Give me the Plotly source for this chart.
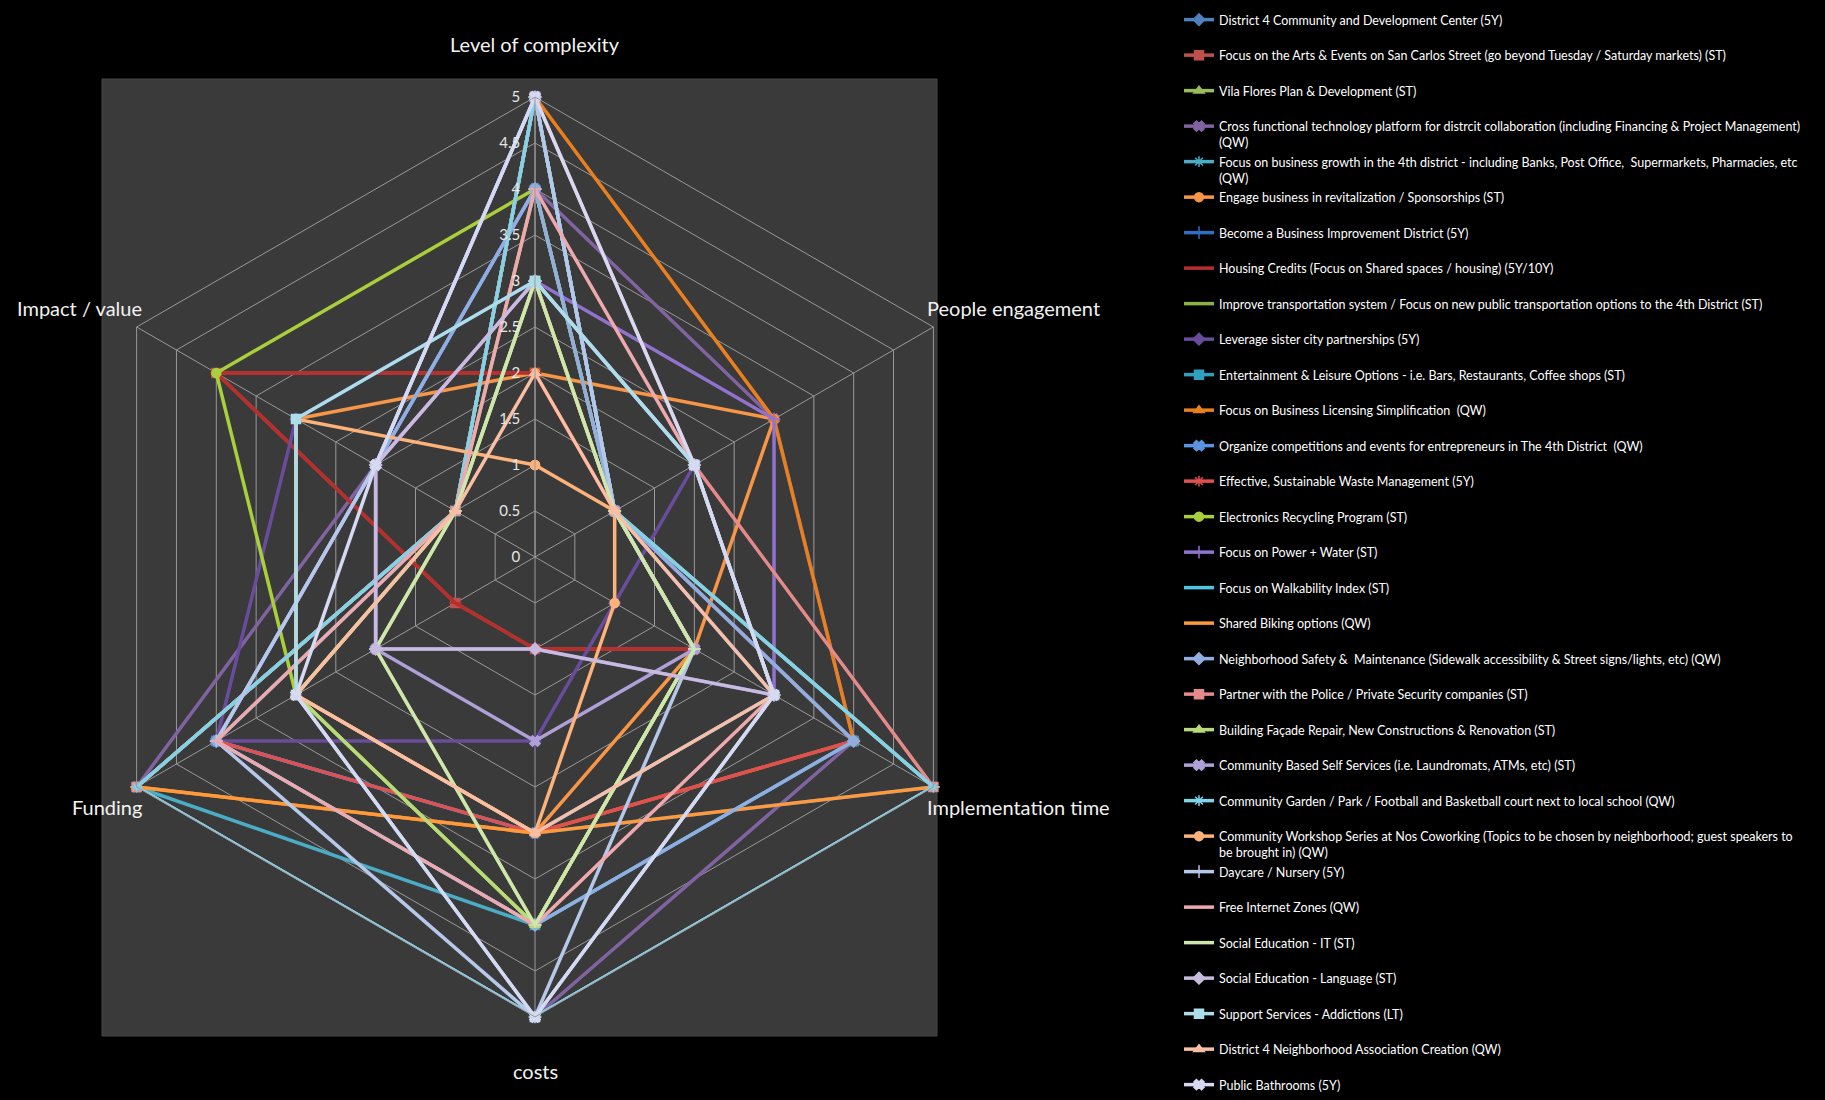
import plotly.graph_objects as go

# ---------------- data ----------------
axes = ["Level of complexity", "People engagement", "Implementation time",
        "costs", "Funding", "Impact / value"]

series_names = [
    "District 4 Community and Development Center (5Y)",
    "Focus on the Arts & Events on San Carlos Street (go beyond Tuesday / Saturday markets) (ST)",
    "Vila Flores Plan & Development (ST)",
    "Cross functional technology platform for distrcit collaboration (including Financing & Project Management)<br>(QW)",
    "Focus on business growth in the 4th district - including Banks, Post Office,  Supermarkets, Pharmacies, etc<br>(QW)",
    "Engage business in revitalization / Sponsorships (ST)",
    "Become a Business Improvement District (5Y)",
    "Housing Credits (Focus on Shared spaces / housing) (5Y/10Y)",
    "Improve transportation system / Focus on new public transportation options to the 4th District (ST)",
    "Leverage sister city partnerships (5Y)",
    "Entertainment & Leisure Options - i.e. Bars, Restaurants, Coffee shops (ST)",
    "Focus on Business Licensing Simplification  (QW)",
    "Organize competitions and events for entrepreneurs in The 4th District  (QW)",
    "Effective, Sustainable Waste Management (5Y)",
    "Electronics Recycling Program (ST)",
    "Focus on Power + Water (ST)",
    "Focus on Walkability Index (ST)",
    "Shared Biking options (QW)",
    "Neighborhood Safety &  Maintenance (Sidewalk accessibility & Street signs/lights, etc) (QW)",
    "Partner with the Police / Private Security companies (ST)",
    "Building Façade Repair, New Constructions & Renovation (ST)",
    "Community Based Self Services (i.e. Laundromats, ATMs, etc) (ST)",
    "Community Garden / Park / Football and Basketball court next to local school (QW)",
    "Community Workshop Series at Nos Coworking (Topics to be chosen by neighborhood; guest speakers to<br>be brought in) (QW)",
    "Daycare / Nursery (5Y)",
    "Free Internet Zones (QW)",
    "Social Education - IT (ST)",
    "Social Education - Language (ST)",
    "Support Services - Addictions (LT)",
    "District 4 Neighborhood Association Creation (QW)",
    "Public Bathrooms (5Y)",
]

# one value per series (same order as series_names), one list per radar axis
level_of_complexity = [4, 2, 4, 4, 5, 2, 5, 2, 3, 3, 5, 5, 4, 3, 4, 3, 5, 5, 4, 5, 3, 5, 5, 1, 5, 4, 3, 3, 3, 2, 5]
people_engagement   = [1, 1, 1, 3, 1, 3, 1, 1, 1, 2, 1, 3, 1, 1, 1, 3, 1, 1, 1, 2, 1, 1, 1, 1, 1, 2, 1, 2, 2, 1, 2]
implementation_time = [3, 2, 2, 4, 4, 2, 5, 2, 2, 1, 4, 4, 3, 4, 2, 3, 5, 5, 4, 5, 2, 2, 5, 1, 2, 3, 2, 3, 3, 3, 3]
costs               = [3, 1, 4, 5, 4, 3, 3, 1, 4, 2, 4, 3, 3, 3, 4, 1, 5, 3, 4, 5, 4, 2, 5, 3, 5, 4, 4, 1, 5, 3, 5]
funding             = [4, 1, 3, 5, 5, 3, 4, 1, 2, 4, 4, 5, 4, 4, 3, 2, 5, 5, 4, 5, 3, 2, 5, 3, 4, 4, 2, 2, 3, 3, 3]
impact_value        = [2, 4, 1, 2, 1, 3, 2, 4, 1, 3, 1, 1, 2, 2, 4, 2, 1, 1, 2, 1, 1, 2, 1, 3, 2, 1, 1, 2, 3, 1, 2]

radial_ticks = [0, 0.5, 1, 1.5, 2, 2.5, 3, 3.5, 4, 4.5, 5]

# ---------------- styles ----------------
colors = [
    "#4F81BD", "#C0504D", "#9BBB59", "#8064A2", "#4BACC6", "#F79646",
    "#2C6FC4", "#B52F2C", "#8CB043", "#6A4C9C", "#2FA0C0", "#E9801F",
    "#5B93E0", "#E0504F", "#A9CF3C", "#9173CF", "#4FC6E0", "#FF9A3C",
    "#92AEE0", "#E58A8A", "#B8DA7A", "#B0A0D8", "#7FD3EA", "#FDB27A",
    "#B6C8EA", "#EDA9AD", "#CFE6AF", "#C7BCE0", "#ABDDEA", "#F9BFA5",
    "#D5DAF2",
]
symbol_cycle = ["diamond", "square", "triangle-up", "x", "asterisk",
                "circle", "cross-thin", "line-ew", "line-ew"]

fig = go.Figure()
n = len(series_names)
for i, name in enumerate(series_names):
    vals = [level_of_complexity[i], people_engagement[i], implementation_time[i],
            costs[i], funding[i], impact_value[i]]
    # every legend entry takes two text lines so the entries are evenly spaced
    label = name if ("<br>" in name or i == n - 1) else name + "<br>\u00a0"
    fig.add_trace(go.Scatterpolar(
        r=vals + [vals[0]],
        theta=axes + [axes[0]],
        mode="lines+markers",
        name=label,
        legendgroup=f"g{i}",
        line=dict(color=colors[i], width=3.5),
        marker=dict(symbol=symbol_cycle[i % len(symbol_cycle)], size=9,
                    color=colors[i], line=dict(color=colors[i], width=1.5)),
    ))

W, H = 1825, 1100
cx, cy, R = 535, 557, 460
grid = "#999999"

fig.update_layout(
    width=W, height=H,
    margin=dict(l=0, r=0, t=0, b=0, autoexpand=False),
    paper_bgcolor="#000000",
    plot_bgcolor="#000000",
    font=dict(family="Lato, Open Sans, sans-serif", color="#FFFFFF"),
    showlegend=True,
    legend=dict(
        x=1179 / W, y=1 - 5 / H, xanchor="left", yanchor="top",
        bgcolor="#000000", font=dict(family="Lato, sans-serif", size=12.5, color="#FFFFFF"),
        tracegroupgap=0, valign="top", itemwidth=30,
    ),
    polar=dict(
        domain=dict(x=[(cx - R) / W, (cx + R) / W],
                    y=[(H - cy - R) / H, (H - cy + R) / H]),
        bgcolor="rgba(0,0,0,0)",
        gridshape="linear",
        angularaxis=dict(rotation=90, direction="clockwise", showticklabels=False,
                         gridcolor=grid, gridwidth=1, linecolor=grid,
                         linewidth=1, showline=True, ticks=""),
        radialaxis=dict(range=[0, 5], tickvals=radial_ticks, angle=90, tickangle=90,
                        side="counterclockwise", gridcolor=grid, gridwidth=1,
                        linecolor=grid, showline=True,
                        ticks="outside", ticklen=9, tickcolor="rgba(0,0,0,0)",
                        tickfont=dict(color="#E6E6E6", size=15, family="Lato, sans-serif")),
    ),
    shapes=[dict(type="rect", xref="paper", yref="paper", layer="below",
                 x0=102 / W, x1=937 / W, y0=1 - 1036 / H, y1=1 - 79 / H,
                 fillcolor="#3a3a3a", line=dict(color="#474747", width=1))],
)

title_font = dict(family="Lato, Open Sans, sans-serif", size=20, color="#F2F2F2")
label_pos = [
    (535, 44, "center"), (925, 308, "left"), (925, 807, "left"),
    (535, 1071, "center"), (144, 807, "right"), (144, 308, "right"),
]
for name, (x, y, anc) in zip(axes, label_pos):
    fig.add_annotation(x=x / W, y=1 - y / H, xref="paper", yref="paper",
                       text=name, showarrow=False, xanchor=anc, yanchor="middle",
                       font=title_font)

fig.write_html("out.html", config={"displayModeBar": False})

# remove the browser's default page margin so the figure sits at the window origin
with open("out.html", encoding="utf-8") as f:
    html = f.read()
html = html.replace("<head>", "<head><style>html,body{margin:0;padding:0;overflow:hidden;background:#000;}</style>", 1)
with open("out.html", "w", encoding="utf-8") as f:
    f.write(html)
